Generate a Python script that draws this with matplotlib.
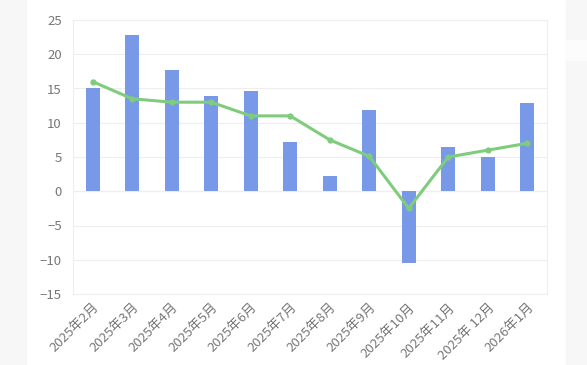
import numpy as np
import matplotlib.pyplot as plt
from matplotlib.patches import Rectangle

plt.rcParams['font.family'] = ['Noto Sans CJK SC', 'DejaVu Sans']

months = ['2025年2月', '2025年3月', '2025年4月', '2025年5月', '2025年6月', '2025年7月',
          '2025年8月', '2025年9月', '2025年10月', '2025年11月', '2025年 12月', '2026年1月']
bar_vals = [15.1, 22.8, 17.7, 13.9, 14.6, 7.25, 2.2, 11.9, -10.5, 6.4, 5.0, 12.95]
line_vals = [16.0, 13.5, 13.0, 13.0, 11.0, 11.0, 7.5, 5.1, -2.5, 5.0, 6.0, 7.0]
yticks = [-15, -10, -5, 0, 5, 10, 15, 20, 25]

fig = plt.figure(figsize=(5.87, 3.65), dpi=100)
fig.patch.set_facecolor('white')

# side strips of the screenshot
fig.patches.append(Rectangle((0, 0), 26 / 587, 1, transform=fig.transFigure,
                             color='#f7f7f7', zorder=0))
fig.patches.append(Rectangle((566 / 587, 0), 21 / 587, 1, transform=fig.transFigure,
                             color='#f7f7f7', zorder=0))
fig.patches.append(Rectangle((566 / 587, 1 - 60 / 365), 21 / 587, 20 / 365,
                             transform=fig.transFigure, color='#fcfcfc', zorder=0))

ax = fig.add_axes([73 / 587, 1 - 294 / 365, 474 / 587, 274 / 365])
x = np.arange(len(months))

ax.bar(x, bar_vals, width=0.36, color='#7799e8', zorder=2)
ax.plot(x, line_vals, color='#7fcc7c', lw=2.2, marker='o', ms=3.5, zorder=3)

ax.set_xlim(-0.5, len(months) - 0.5)
ax.set_ylim(-15, 25)
ax.set_yticks(yticks)
ax.set_yticklabels([str(v).replace('-', '\u2212') for v in yticks])
ax.set_xticks(x)
ax.set_xticklabels(months, rotation=45, ha='right', rotation_mode='anchor')

ax.grid(axis='y', color='#eeeeee', lw=0.8, zorder=0)
ax.axhline(0, color='#dddddd', lw=0.8, zorder=1)
for s in ax.spines.values():
    s.set_color('#eeeeee')
    s.set_linewidth(0.8)
ax.tick_params(length=0, colors='#777777', labelsize=9.5, pad=8)
ax.tick_params(axis='x', pad=5)

plt.savefig('out.png', dpi=100)
